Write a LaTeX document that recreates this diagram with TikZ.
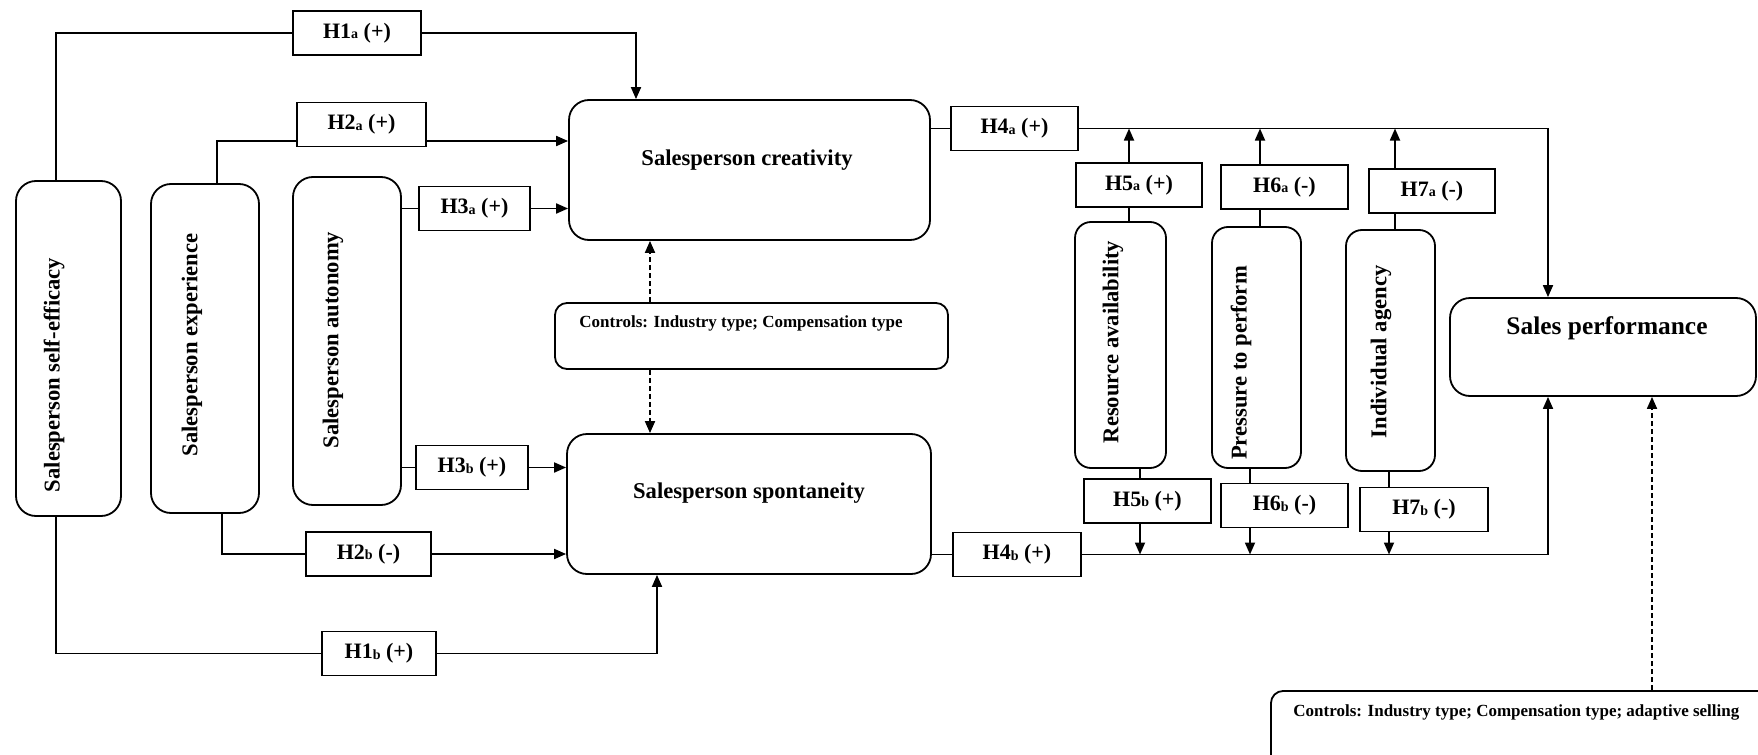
\documentclass[tikz,border=0pt]{standalone}
\usepackage{fontspec}
\setmainfont{Liberation Serif}
\usetikzlibrary{arrows.meta,calc}
\newcommand\hsub[1]{{\fontsize{7}{8}\selectfont\raisebox{-0.3pt}{#1}}}
\begin{document}
\begin{tikzpicture}[x=0.5pt,y=-0.5pt,
  ln/.style={line width=0.9pt},
  arr/.style={ln,-{Triangle[length=6pt,width=5pt]}},
  darr/.style={arr,dash pattern=on 2.5pt off 1.5pt},
  rbox/.style={draw,line width=0.9pt,rounded corners=10pt,inner sep=0pt},
  vbox/.style={rbox,rounded corners=8pt},
  lbl/.style={draw,line width=0.9pt,inner sep=0pt,minimum height=22pt,font=\bfseries\fontsize{11}{13}\selectfont},
  txt/.style={font=\bfseries\fontsize{11.3}{13}\selectfont,inner sep=0pt},
  vtxt/.style={txt,rotate=90},
  ctxt/.style={font=\bfseries\fontsize{8.5}{10}\selectfont,inner sep=0pt},
]
\useasboundingbox (0,0) rectangle (1758,755);
\clip (0,0) rectangle (1758,755);

% main boxes
\node[rbox,minimum width=52.5pt,minimum height=167.5pt] (se) at (68.5,348.5) {};
\node[vtxt] (se-t) at (54,375) {Salesperson self-efficacy};
\node[rbox,minimum width=54pt,minimum height=164.5pt] (exp) at (205,348.5) {};
\node[vtxt] (exp-t) at (192,345) {Salesperson experience};
\node[rbox,minimum width=54pt,minimum height=164pt] (aut) at (347,341) {};
\node[vtxt] (aut-t) at (333,340) {Salesperson autonomy};
\node[rbox,minimum width=180.5pt,minimum height=70pt] (cre) at (749.5,170) {};
\node[txt] (cre-t) at (747,160) {Salesperson creativity};
\node[rbox,minimum width=182pt,minimum height=70pt] (spo) at (749,504) {};
\node[txt] (spo-t) at (749,493) {Salesperson spontaneity};
\node[rbox,rounded corners=6pt,minimum width=196.5pt,minimum height=33pt] (ctl1) at (751.5,336) {};
\node[ctxt] (ctl1-t) at (741,323) {Controls: Industry type; Compensation type};
\node[vbox,minimum width=45.5pt,minimum height=123pt] (res) at (1120.5,345) {};
\node[vtxt] (res-t) at (1113,342) {Resource availability};
\node[vbox,minimum width=44.5pt,minimum height=120.5pt] (pre) at (1256.5,347.5) {};
\node[vtxt] (pre-t) at (1241,363) {Pressure to perform};
\node[vbox,minimum width=44.5pt,minimum height=120.5pt] (ind) at (1390.5,350.5) {};
\node[vtxt] (ind-t) at (1381,352) {Individual agency};
\node[rbox,minimum width=153pt,minimum height=49pt] (sp) at (1603,347) {};
\node[txt,font=\bfseries\fontsize{12.7}{15}\selectfont] (sp-t) at (1607,328) {Sales performance};
\node[rbox,rounded corners=6pt,minimum width=264.5pt,minimum height=54.5pt] (ctl2) at (1535.5,745.5) {};
\node[ctxt,anchor=west] (ctl2-t) at (1293,712) {Controls: Industry type; Compensation type; adaptive selling};

% hypothesis labels
\node[lbl,minimum width=64pt] (h1a) at (357,33) {H1\hsub{a} (+)};
\node[lbl,minimum width=64.5pt] (h2a) at (361.5,124.5) {H2\hsub{a} (+)};
\node[lbl,minimum width=55.5pt] (h3a) at (474.5,208.5) {H3\hsub{a} (+)};
\node[lbl,minimum width=56pt] (h3b) at (472,467.5) {H3\hsub{b} (+)};
\node[lbl,minimum width=62.5pt] (h2b) at (368.5,554) {H2\hsub{b} (-)};
\node[lbl,minimum width=57pt] (h1b) at (379,653.5) {H1\hsub{b} (+)};
\node[lbl,minimum width=63.5pt] (h4a) at (1014.5,128.5) {H4\hsub{a} (+)};
\node[lbl,minimum width=64pt] (h4b) at (1017,554.5) {H4\hsub{b} (+)};
\node[lbl,minimum width=63pt] (h5a) at (1139,185) {H5\hsub{a} (+)};
\node[lbl,minimum width=63.5pt] (h6a) at (1284.5,187) {H6\hsub{a} (-)};
\node[lbl,minimum width=63pt] (h7a) at (1432,191) {H7\hsub{a} (-)};
\node[lbl,minimum width=63.5pt] (h5b) at (1147.5,501) {H5\hsub{b} (+)};
\node[lbl,minimum width=63.5pt] (h6b) at (1284.5,505.5) {H6\hsub{b} (-)};
\node[lbl,minimum width=64pt] (h7b) at (1424,509.5) {H7\hsub{b} (-)};

% helper x positions
\coordinate (xse) at (56,0);
\coordinate (xexpt) at (217,0);
\coordinate (xexpb) at (222,0);
\coordinate (xcreh1) at (636,0);
\coordinate (xspoh1) at (657,0);
\coordinate (xsp) at (1548,0);
\coordinate (xc1) at (650,0);
\coordinate (xc2) at (1652,0);
\coordinate (m5) at (1129,0);
\coordinate (m6) at (1260,0);
\coordinate (m7) at (1395,0);
\coordinate (n5) at (1140,0);
\coordinate (n6) at (1250,0);
\coordinate (n7) at (1389,0);
\coordinate (yh2a) at (0,141);

% H1
\draw[ln] (xse |- se.north) |- (h1a.west);
\draw[arr] (h1a.east) -| (xcreh1 |- cre.north);
\draw[ln] (xse |- se.south) |- (h1b.west);
\draw[arr] (h1b.east) -| (xspoh1 |- spo.south);
% H2
\draw[ln] (xexpt |- exp.north) |- (h2a.west |- yh2a);
\draw[arr] (h2a.east |- yh2a) -- (cre.west |- yh2a);
\draw[ln] (xexpb |- exp.south) |- (h2b.west);
\draw[arr] (h2b.east) -- (h2b.east -| spo.west);
% H3
\draw[ln] (h3a.west -| aut.east) -- (h3a.west);
\draw[arr] (h3a.east) -- (h3a.east -| cre.west);
\draw[ln] (h3b.west -| aut.east) -- (h3b.west);
\draw[arr] (h3b.east) -- (h3b.east -| spo.west);
% H4
\draw[ln] (h4a.west -| cre.east) -- (h4a.west);
\draw[arr] (h4a.east) -| (xsp |- sp.north);
\draw[ln] (h4b.west -| spo.east) -- (h4b.west);
\draw[arr] (h4b.east) -| (xsp |- sp.south);
% moderators
\draw[ln] (m5 |- res.north) -- (m5 |- h5a.south);
\draw[arr] (m5 |- h5a.north) -- (m5 |- h4a.east);
\draw[ln] (m6 |- pre.north) -- (m6 |- h6a.south);
\draw[arr] (m6 |- h6a.north) -- (m6 |- h4a.east);
\draw[ln] (m7 |- ind.north) -- (m7 |- h7a.south);
\draw[arr] (m7 |- h7a.north) -- (m7 |- h4a.east);
\draw[ln] (n5 |- res.south) -- (n5 |- h5b.north);
\draw[arr] (n5 |- h5b.south) -- (n5 |- h4b.east);
\draw[ln] (n6 |- pre.south) -- (n6 |- h6b.north);
\draw[arr] (n6 |- h6b.south) -- (n6 |- h4b.east);
\draw[ln] (n7 |- ind.south) -- (n7 |- h7b.north);
\draw[arr] (n7 |- h7b.south) -- (n7 |- h4b.east);
% controls
\draw[darr] (xc1 |- ctl1.north) -- (xc1 |- cre.south);
\draw[darr] (xc1 |- ctl1.south) -- (xc1 |- spo.north);
\draw[darr] (xc2 |- ctl2.north) -- (xc2 |- sp.south);
\end{tikzpicture}
\end{document}
